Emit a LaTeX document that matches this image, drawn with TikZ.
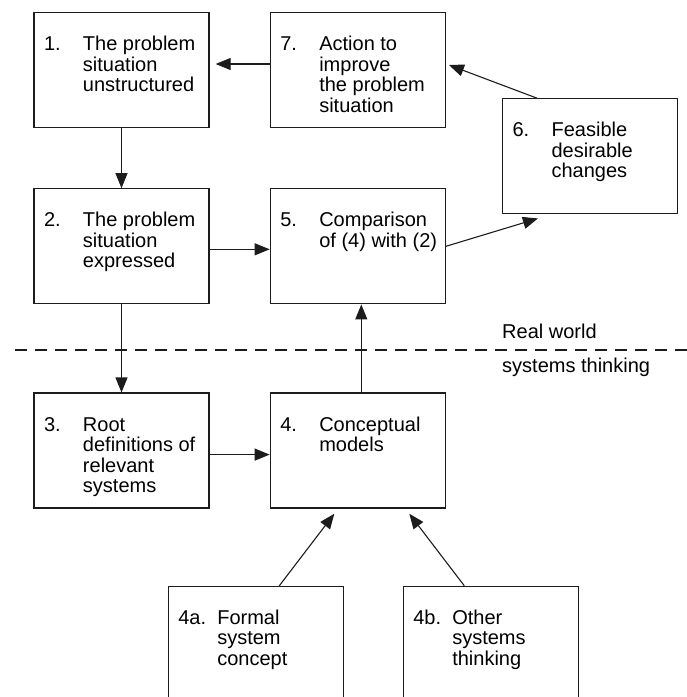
\documentclass[tikz,border=0pt]{standalone}
\usepackage{fontspec}
\setmainfont{Liberation Sans}
\usetikzlibrary{arrows.meta,positioning}
\definecolor{ink}{HTML}{1C1C1C}
% number column + text column, top aligned inside the box
\newcommand{\stagetext}[2]{\parbox[c][115pt][t]{155pt}{\raggedright\rule{0pt}{38pt}\makebox[39pt][l]{#1}\parbox[t]{124pt}{\raggedright #2}}}
\tikzset{
  every node/.style={font=\fontsize{20}{20.5}\selectfont,text=black},
  stagebox/.style={draw=ink,line width=1.3pt,inner xsep=10pt,inner ysep=0pt,minimum width=175pt,minimum height=115pt},
  arrow/.style={-{Triangle[length=15pt,width=12pt]},line width=1.1pt,draw=ink},
  boundary/.style={draw=ink,line width=1.3pt,dash pattern=on 12pt off 8pt},
  realm/.style={anchor=base west,inner sep=0pt}
}
\begin{document}
\begin{tikzpicture}[node distance=60pt and 60pt]
  \useasboundingbox (0,0) rectangle (687pt,-697pt);

  \node[stagebox] (unstructured) at (121.5pt,-70pt) {\stagetext{1.}{The problem\\situation\\unstructured}};
  \node[stagebox,right=of unstructured] (action) {\stagetext{7.}{Action to\\improve\\the problem\\situation}};
  \node[stagebox,below right=-30pt and 56pt of action] (changes) {\stagetext{6.}{Feasible\\desirable\\changes}};
  \node[stagebox,below=of unstructured] (expressed) {\stagetext{2.}{The problem\\situation\\expressed}};
  \node[stagebox,right=of expressed] (comparison) {\stagetext{5.}{Comparison\\of (4) with (2)}};

  \node[stagebox,below=88pt of expressed] (rootdefs) {\stagetext{3.}{Root\\definitions of\\relevant\\systems}};
  \node[stagebox,right=of rootdefs] (models) {\stagetext{4.}{Conceptual\\models}};
  \node[stagebox,below=77pt of models,xshift=-102pt] (formal) {\stagetext{4a.}{Formal\\system\\concept}};
  \node[stagebox,below=77pt of models,xshift=133pt] (other) {\stagetext{4b.}{Other\\systems\\thinking}};

  % real world / systems thinking boundary
  \draw[boundary] (15pt,-350pt) coordinate (dashL) -- (687pt,-350pt) coordinate (dashR);
  \node[realm] (realworld) at (502pt,-338pt) {Real world};
  \node[realm] (systhink) at (502pt,-372pt) {systems thinking};

  \draw[arrow,shorten >=6pt] ([yshift=6pt]action.west) -- ([yshift=6pt]unstructured.east);
  \draw[arrow] (unstructured) -- (expressed);
  \draw[arrow] ([yshift=-3pt]expressed.east) -- ([yshift=-3pt]comparison.west);
  \draw[arrow] (comparison.east) -- ([xshift=36pt,yshift=-4pt]changes.south west);
  \draw[arrow] ([xshift=35pt]changes.north west) -- ([xshift=3pt,yshift=5pt]action.east);
  \draw[arrow] (expressed) -- (rootdefs);
  \draw[arrow] ([yshift=-4pt]rootdefs.east) -- ([yshift=-4pt]models.west);
  \draw[arrow] ([xshift=3.5pt]models.north) -- ([xshift=3.5pt]comparison.south);
  \draw[arrow] ([xshift=23.5pt]formal.north) -- ([xshift=-23.5pt,yshift=-5pt]models.south);
  \draw[arrow] ([xshift=-26.5pt]other.north) -- ([xshift=51.5pt,yshift=-5pt]models.south);
\end{tikzpicture}
\end{document}
